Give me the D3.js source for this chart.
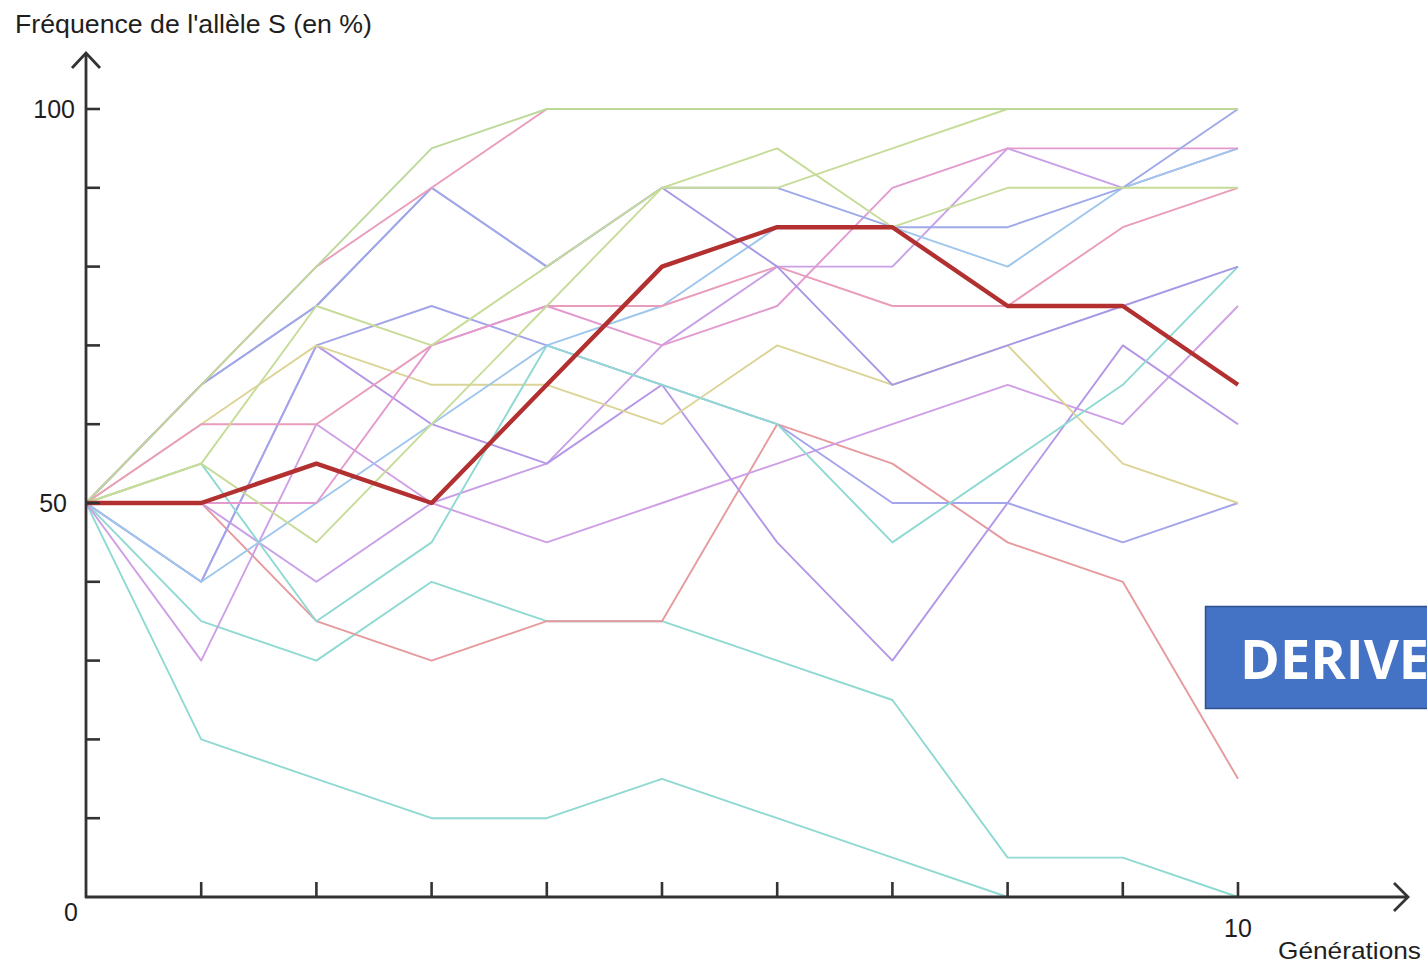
<!DOCTYPE html>
<html><head><meta charset="utf-8">
<script src="https://cdn.jsdelivr.net/npm/d3@7"></script>
<style>
html,body{margin:0;padding:0;background:#fff;}
svg{display:block;}
</style></head>
<body>
<svg id="chart" width="1427" height="966"></svg>
<script>
// ---- data ----
const generations = [0,1,2,3,4,5,6,7,8,9,10];
const yTickValues = [0,10,20,30,40,50,60,70,80,90,100];
const yTickLabels = ["0","50","100"];
const xTickLabels = ["10"];
const thickSeries = [50,50,55,50,65,80,85,85,75,75,65];
const greenA   = [50,65,80,95,100,100,100,100,100,100,100];
const pinkA    = [50,65,80,90,100,100,100,100,100,100,100];
const blueB    = [50,65,75,90,80,90,90,85,85,90,100];
const purpleE  = [50,65,75,90,80,90,80,65,70,75,80];
const greenB   = [50,55,75,70,80,90,95,85,90,90,90];
const pinkB    = [50,60,60,70,75,75,80,75,75,85,90];
const violetK  = [50,50,40,50,55,70,80,80,95,90,95];
const yellowA  = [50,60,70,65,65,60,70,65,70,55,50];
const purpleH  = [50,40,70,75,70,65,60,50,50,45,50];
const purpleX  = [50,40,70,60,55,65,45,30,50,70,60];
const violetG  = [50,30,60,50,45,50,55,60,65,60,75];
const cyanLow  = [50,20,15,10,10,15,10,5,0,0,0];
const cyanB    = [50,35,30,40,35,35,30,25,5,5,0];
const salmonA  = [50,50,35,30,35,35,60,55,45,40,15];
const cyanA    = [50,55,35,45,70,65,60,45,55,65,80];
const lightBlue= [50,40,50,60,70,75,85,85,80,90,95];
const greenC   = [50,55,45,60,75,90,90,95,100,100,100];
const pinkC    = [50,50,50,70,75,70,75,90,95,95,95];

const thinSeries = [
  {v: cyanLow, c:"#8fd9d3"},
  {v: cyanB, c:"#8fd9d3"},
  {v: salmonA, c:"#e69a9e"},
  {v: violetG, c:"#cf9fe6"},
  {v: violetK, c:"#c99fe8"},
  {v: purpleX, c:"#b497e6"},
  {v: purpleH, c:"#a3a4ea"},
  {v: yellowA, c:"#dcd496"},
  {v: cyanA, c:"#8fd9d3"},
  {v: lightBlue, c:"#9fc6ec"},
  {v: pinkB, c:"#e99cbc"},
  {v: pinkC, c:"#e39ad0"},
  {v: purpleE, c:"#a797e6"},
  {v: blueB, c:"#9ea9e8"},
  {v: greenC, c:"#c6dc98"},
  {v: greenB, c:"#c6dc98"},
  {v: pinkA, c:"#e99cbc"},
  {v: greenA, c:"#bcd99a"}
];

// ---- layout ----
const svg = d3.select("#chart");
const x = d3.scaleLinear().domain([0,10]).range([86,1238]);
const y = d3.scaleLinear().domain([0,100]).range([897,109]);
const line = d3.line().x((d,i)=>x(generations[i])).y(d=>y(d));

const gLines = svg.append("g");
thinSeries.forEach(s=>{
  gLines.append("path").datum(s.v).attr("d",line)
    .attr("fill","none").attr("stroke",s.c).attr("stroke-width",1.9)
    .attr("stroke-linejoin","round");
});
gLines.append("path").datum(thickSeries).attr("d",line)
  .attr("fill","none").attr("stroke","#b2302f").attr("stroke-width",4.4)
  .attr("stroke-linejoin","round");

// axes
const axisColor = "#333";
const ax = svg.append("g");
ax.append("line").attr("x1",x(0)).attr("x2",x(0)).attr("y1",y(0)+1).attr("y2",53)
  .attr("stroke",axisColor).attr("stroke-width",2.8);
ax.append("path").attr("d",`M${x(0)-14},${68} L${x(0)},${53} L${x(0)+14},${68}`)
  .attr("fill","none").attr("stroke",axisColor).attr("stroke-width",2.8);
ax.append("line").attr("x1",x(0)-1).attr("x2",1408).attr("y1",y(0)).attr("y2",y(0))
  .attr("stroke",axisColor).attr("stroke-width",2.8);
ax.append("path").attr("d",`M1394,${y(0)-14} L1408,${y(0)} L1394,${y(0)+14}`)
  .attr("fill","none").attr("stroke",axisColor).attr("stroke-width",2.8);

ax.selectAll(".yt").data(yTickValues.filter(d=>d>0)).enter().append("line")
  .attr("x1",x(0)).attr("x2",x(0)+14).attr("y1",d=>y(d)).attr("y2",d=>y(d))
  .attr("stroke",axisColor).attr("stroke-width",2.6);
ax.selectAll(".xt").data(generations.filter(d=>d>0)).enter().append("line")
  .attr("x1",d=>x(d)).attr("x2",d=>x(d)).attr("y1",y(0)).attr("y2",y(0)-15)
  .attr("stroke",axisColor).attr("stroke-width",2.6);

const font = "'Liberation Sans', Arial, sans-serif";
function label(t, xx, yy, anchor, size){
  return ax.append("text").text(t).attr("x",xx).attr("y",yy)
    .attr("text-anchor",anchor).attr("font-family",font).attr("font-size",size||25).attr("fill","#1e1e1e");
}
label(yTickLabels[2], 75, y(100)+9, "end");
label(yTickLabels[1], 67, y(50)+9, "end");
label(yTickLabels[0], 78, y(0)+24, "end");
label(xTickLabels[0], x(10), y(0)+40, "middle");

label("Fréquence de l'allèle S (en %)", 15, 33, "start")
  .attr("textLength",357).attr("lengthAdjust","spacingAndGlyphs");
label("Générations", 1278, 959, "start", 24)
  .attr("textLength",143).attr("lengthAdjust","spacingAndGlyphs");

// DERIVE box
svg.append("rect").attr("x",1205.5).attr("y",606.5).attr("width",240).attr("height",102)
  .attr("fill","#4472c4").attr("stroke","#2f528f").attr("stroke-width",1.5);
svg.append("text").text("DERIVE").attr("x",1240).attr("y",679)
  .attr("font-family","'Open Sans', Lato, sans-serif").attr("font-weight",700)
  .attr("font-size",54).attr("fill","#fff");
</script>
</body></html>
